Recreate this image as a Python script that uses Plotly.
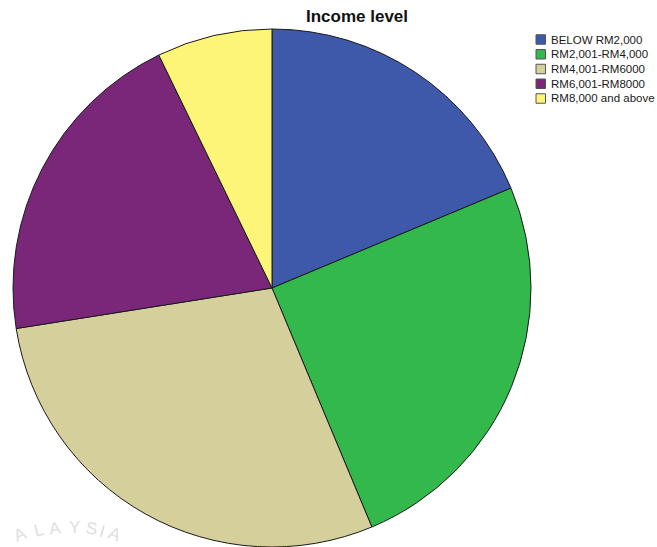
import plotly.graph_objects as go

W, H = 657, 547

categories = ["BELOW RM2,000", "RM2,001-RM4,000", "RM4,001-RM6000", "RM6,001-RM8000", "RM8,000 and above"]
values = [18.7, 25.0, 28.8, 20.3, 7.2]
colors = ["#3E58AA", "#32B84B", "#D5CF9C", "#7A277A", "#FCF577"]
title_text = "Income level"

fig = go.Figure()
fig.add_trace(go.Pie(
    labels=categories,
    values=values,
    sort=False,
    direction="clockwise",
    rotation=0,
    textinfo="none",
    hoverinfo="label+percent",
    marker=dict(colors=colors, line=dict(color="#1a1a1a", width=1)),
    domain=dict(x=[13 / W, 531 / W], y=[0, 1 - 29 / H]),
    showlegend=False,
))

# Manual compact legend (SPSS style)
shapes = []
annotations = []
x0_sw, sw = 536, 9.5
y_first, step = 39.5, 14.75
for i, (lab, col) in enumerate(zip(categories, colors)):
    yc = y_first + i * step
    shapes.append(dict(
        type="rect", xref="paper", yref="paper",
        x0=x0_sw / W, x1=(x0_sw + sw) / W,
        y0=1 - (yc + sw / 2) / H, y1=1 - (yc - sw / 2) / H,
        fillcolor=col, line=dict(color="#555555", width=1),
    ))
    annotations.append(dict(
        text=lab, xref="paper", yref="paper",
        x=548.5 / W, y=1 - yc / H, xanchor="left", yanchor="middle",
        showarrow=False, font=dict(family="Arial, Liberation Sans, sans-serif", size=11.5, color="#1a1a1a"),
    ))

# Title
annotations.append(dict(
    text="<b>" + title_text + "</b>", xref="paper", yref="paper",
    x=357 / W, y=1 - 16 / H, xanchor="center", yanchor="middle",
    showarrow=False, font=dict(family="Arial, Liberation Sans, sans-serif", size=17, color="#111111"),
))

# Faint curved watermark remnant
wm_letters = ["A", "L", "A", "Y", "S", "I", "A"]
wm_x = [20, 38, 55, 74, 91, 102, 115]
wm_y = [534, 530, 528, 527, 528, 531, 534]
wm_ang = [-25, -15, -8, 0, 8, 15, 22]
for ch, xx, yy, aa in zip(wm_letters, wm_x, wm_y, wm_ang):
    annotations.append(dict(
        text=ch, xref="paper", yref="paper",
        x=xx / W, y=1 - yy / H, xanchor="center", yanchor="middle",
        textangle=aa, showarrow=False,
        font=dict(family="Arial, Liberation Sans, sans-serif", size=17, color="#dedede"),
    ))

fig.update_layout(
    width=W, height=H,
    margin=dict(l=0, r=0, t=0, b=0),
    paper_bgcolor="white",
    plot_bgcolor="white",
    shapes=shapes,
    annotations=annotations,
)

fig.write_html("out.html")
